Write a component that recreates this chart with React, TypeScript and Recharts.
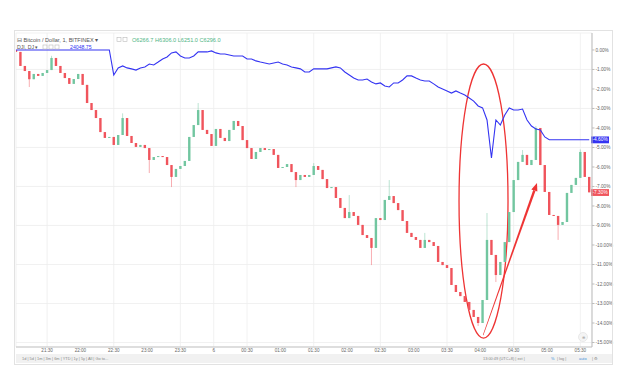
import { ComposedChart, Bar, Line, XAxis, YAxis, CartesianGrid, ReferenceArea, ReferenceLine } from 'recharts'

// BTC 1-min chart, sampled every 4 minutes, values in % vs. start
const closes = [
    -0.10, -0.82, -1.08, -1.50, -1.23, -1.33, -1.18, -1.03, -0.41, -0.82,
    -1.18, -1.44, -1.74, -1.49, -1.23, -1.79, -2.72, -3.08, -3.49, -4.21,
    -4.51, -4.46, -4.87, -4.36, -3.49, -4.41, -4.77, -4.97, -4.87, -5.03,
    -5.64, -5.49, -5.44, -5.49, -5.90, -6.51, -6.10, -5.95, -5.69, -4.46,
    -3.85, -3.08, -4.10, -4.31, -4.92, -4.05, -4.51, -4.67, -4.10, -3.64,
    -3.90, -4.62, -5.03, -5.59, -5.23, -5.03, -5.13, -5.08, -5.38, -6.05,
    -6.00, -5.85, -6.26, -6.67, -6.41, -6.51, -6.41, -5.95, -6.15, -6.62,
    -7.08, -7.03, -7.59, -8.10, -8.62, -8.31, -8.51, -8.97, -9.49, -9.64,
    -10.15, -8.62, -8.72, -7.69, -7.49, -7.85, -8.21, -8.77, -9.38, -9.59,
    -9.74, -10.15, -9.74, -9.85, -10.05, -10.87, -11.03, -11.18, -12.05, -12.41,
    -12.62, -12.92, -13.33, -13.69, -14.00, -12.82, -9.74, -10.51, -11.54, -10.87,
    -9.85, -8.31, -6.67, -5.74, -5.38, -5.90, -5.64, -4.00, -5.90, -7.28,
    -8.46, -8.51, -8.97, -8.82, -7.33, -6.92, -6.56, -5.23, -6.51, -7.30,
]

// wicks that stick out beyond the bodies
const spikes = [
    { i: 3, lo: -1.9 }, { i: 8, hi: -0.3 }, { i: 24, hi: -3.25 }, { i: 30, lo: -6.31 },
    { i: 35, lo: -7.03 }, { i: 41, hi: -2.72 }, { i: 63, lo: -7.03 }, { i: 67, hi: -5.8 },
    { i: 75, hi: -7.44 }, { i: 80, lo: -11.03 }, { i: 84, hi: -6.67 }, { i: 92, hi: -9.38 },
    { i: 104, lo: -14.15 }, { i: 106, hi: -8.36 }, { i: 108, lo: -11.9 }, { i: 114, hi: -5.13 },
    { i: 117, hi: -3.9 }, { i: 122, lo: -9.74 }, { i: 127, hi: -5.1 },
]

// DJI compare line (%)
const dji = [
    0, 0, 0, 0, 0, 0, 0, 0, 0, 0,
    0, 0, 0, 0, 0, 0, 0, 0, 0, 0,
    0, 0, -1.28, -0.92, -0.82, -0.92, -0.97, -1.03, -0.92, -0.87,
    -0.72, -0.77, -0.62, -0.46, -0.36, -0.15, -0.10, -0.31, -0.41, -0.41,
    -0.31, -0.10, -0.10, -0.10, -0.05, -0.15, -0.21, -0.21, -0.26, -0.31,
    -0.31, -0.31, -0.46, -0.46, -0.56, -0.62, -0.67, -0.72, -0.67, -0.62,
    -0.72, -0.77, -0.87, -0.92, -0.97, -1.13, -1.13, -0.97, -0.97, -0.97,
    -0.97, -0.92, -0.87, -0.92, -1.13, -1.28, -1.44, -1.54, -1.54, -1.49,
    -1.64, -1.74, -1.69, -1.85, -1.90, -1.69, -1.69, -1.54, -1.33, -1.33,
    -1.44, -1.54, -1.59, -1.59, -1.74, -1.90, -2.00, -2.10, -2.21, -2.10,
    -2.21, -2.31, -2.46, -2.62, -2.87, -2.97, -3.59, -5.54, -3.59, -3.85,
    -3.33, -2.97, -3.08, -3.08, -3.03, -3.59, -3.90, -4.05, -4.10, -4.46,
    -4.60, -4.60, -4.60, -4.60, -4.60, -4.60, -4.60, -4.60, -4.60, -4.60,
]

// minutes after 21:00
const START_MIN = 2
const STEP_MIN = 4
const timeTicks = [30, 60, 90, 120, 150, 180, 210, 240, 270, 300, 330, 360, 390, 420, 450, 480, 510]
const timeLabels = ['21:30', '22:00', '22:30', '23:00', '23:30', '6', '00:30', '01:00', '01:30',
    '02:00', '02:30', '03:00', '03:30', '04:00', '04:30', '05:00', '05:30']
const pctTicks = [0, -1, -2, -3, -4, -5, -6, -7, -8, -9, -10, -11, -12, -13, -14, -15]

// annotation: ellipse around the spike and arrow
const ellipseBox = { x1: 400.8, x2: 444.9, y1: -14.77, y2: -0.72 }
const arrowPts = [{ x: 422.5, y: -14.62 }, { x: 471, y: -6.82 }]

const RED = '#f0545c'
const GREEN = '#72c6a0'
const BLUE = '#3434f2'
const ANNOT = '#ee3434'
const FONT = '"Liberation Sans", Arial, sans-serif'

const data = closes.map((c, i) => {
    const open = i === 0 ? 0 : closes[i - 1]
    const sp: any = spikes.find(s => s.i === i) || {}
    const high = Math.max(open, c, sp.hi ?? -Infinity)
    const low = Math.min(open, c, sp.lo ?? Infinity)
    return { t: START_MIN + STEP_MIN * i, open, close: c, high, low, range: [low, high], dji: dji[i] }
})

const Candle = (props: any) => {
    const { x, y, width, height, payload } = props
    if (!payload || x == null) return null
    const { open, close, high, low } = payload
    const color = close >= open ? GREEN : RED
    const top = Math.min(y, y + height)
    const h = Math.abs(height)
    const span = high - low
    const py = (v: number) => (span > 0 ? top + ((high - v) / span) * h : top)
    const bTop = py(Math.max(open, close))
    const bBot = py(Math.min(open, close))
    const cx = x + width / 2
    return (
        <g>
            <line x1={cx} x2={cx} y1={top} y2={top + h} stroke={color} strokeOpacity={0.6} strokeWidth={0.8} />
            <rect x={x} y={bTop} width={width} height={Math.max(1, bBot - bTop)} fill={color} />
        </g>
    )
}

const EllipseShape = (p: any) => (
    <ellipse cx={p.x + p.width / 2} cy={p.y + p.height / 2} rx={p.width / 2} ry={p.height / 2}
        fill="none" stroke={ANNOT} strokeWidth={1.3} />
)

const ArrowShape = (p: any) => {
    const { x1, y1, x2, y2 } = p
    const len = Math.hypot(x2 - x1, y2 - y1) || 1
    const ux = (x2 - x1) / len, uy = (y2 - y1) / len
    const nx = -uy, ny = ux
    const bx = x2 - ux * 8, by = y2 - uy * 8
    const shaft = `${x1 + nx * 0.3},${y1 + ny * 0.3} ${bx + nx * 1.2},${by + ny * 1.2} ${bx - nx * 1.2},${by - ny * 1.2} ${x1 - nx * 0.3},${y1 - ny * 0.3}`
    const head = `${x2},${y2} ${bx + nx * 3.2},${by + ny * 3.2} ${bx - nx * 3.2},${by - ny * 3.2}`
    return (
        <g>
            <polygon points={shaft} fill={ANNOT} />
            <polygon points={head} fill={ANNOT} />
        </g>
    )
}

const PriceTag = (props: any) => {
    const { viewBox, fill, text } = props
    if (!viewBox) return null
    const x = viewBox.x + viewBox.width
    const y = viewBox.y
    return (
        <g>
            <rect x={x - 1} y={y - 3.2} width={18} height={6.8} fill={fill} />
            <text x={x + 0.5} y={y + 1.7} fontSize={4.8} fill="#fff" fontFamily={FONT}>{text}</text>
        </g>
    )
}

const lastClose = closes[closes.length - 1]
const lastDji = dji[dji.length - 1]
const tb = { fontSize: 3.9, fill: '#888', fontFamily: FONT }

export default function App() {
    return (
        <div style={{ position: 'absolute', left: 0, top: 0, width: 636, height: 387, background: '#fff' }}>
            <ComposedChart width={636} height={387} data={data}
                margin={{ top: 33, right: 24, left: 16, bottom: 32 }}>
                <CartesianGrid stroke="#ededed" strokeWidth={0.8} />
                <XAxis dataKey="t" type="number" domain={[2, 520.5]} allowDataOverflow ticks={timeTicks}
                    tickFormatter={(v) => timeLabels[timeTicks.indexOf(v)]}
                    height={8} tickSize={0} tickMargin={2} axisLine={{ stroke: '#c4c4c4' }}
                    tick={{ fontSize: 4.6, fill: '#666', fontFamily: FONT }} />
                <YAxis orientation="right" type="number" domain={[-15.23, 0.87]} allowDataOverflow
                    ticks={pctTicks} tickFormatter={(v) => `${v.toFixed(2)}%`} width={20}
                    tickSize={2.5} tickMargin={1} axisLine={{ stroke: '#bdbdbd' }} tickLine={{ stroke: '#bdbdbd' }}
                    tick={{ fontSize: 4.7, fill: '#666', fontFamily: FONT, textAnchor: 'start' }} />
                <Bar dataKey="range" barSize={2.4} shape={<Candle />} isAnimationActive={false} />
                <Line dataKey="dji" type="linear" stroke={BLUE} strokeWidth={1.1} dot={false}
                    activeDot={false} isAnimationActive={false} />
                <ReferenceArea {...ellipseBox} shape={<EllipseShape />} ifOverflow="visible" />
                <ReferenceLine segment={arrowPts} shape={<ArrowShape />} ifOverflow="visible" />
                <ReferenceLine y={lastDji} stroke="none"
                    label={<PriceTag fill={BLUE} text={`${lastDji.toFixed(2)}%`} />} />
                <ReferenceLine y={lastClose} stroke="none"
                    label={<PriceTag fill={RED} text={`${lastClose.toFixed(2)}%`} />} />
            </ComposedChart>
            <svg width={636} height={387} style={{ position: 'absolute', left: 0, top: 0, pointerEvents: 'none' }}>
                <rect x={14.5} y={30.5} width={598} height={334} fill="none" stroke="#e2e2e2" />
                <text x={17} y={41.5} fontSize={5.6} fill="#555" fontFamily={FONT}>⊟ Bitcoin / Dollar, 1, BITFINEX ▾</text>
                <rect x={117} y={37.5} width={4} height={4} fill="none" stroke="#bbb" strokeWidth={0.6} />
                <rect x={123} y={37.5} width={4} height={4} fill="none" stroke="#bbb" strokeWidth={0.6} />
                <text x={132} y={41.5} fontSize={5.6} fill="#4fb585" fontFamily={FONT}>O6266.7 H6306.0 L6251.0 C6296.0</text>
                <text x={17} y={48.5} fontSize={5.2} fill="#555" fontFamily={FONT}>DJI, DJ ▾</text>
                <rect x={43} y={45} width={4} height={4} fill="none" stroke="#bbb" strokeWidth={0.6} />
                <rect x={49} y={45} width={4} height={4} fill="none" stroke="#bbb" strokeWidth={0.6} />
                <rect x={55} y={45} width={4} height={4} fill="none" stroke="#bbb" strokeWidth={0.6} />
                <text x={70} y={48.5} fontSize={5.2} fill={BLUE} fontFamily={FONT}>24048.75</text>
                <circle cx={583} cy={337} r={4.5} fill="#f4f4f4" stroke="#dedede" strokeWidth={0.6} />
                <text x={583} y={338.5} fontSize={4} fill="#999" textAnchor="middle" fontFamily={FONT}>⊕</text>
                <rect x={16} y={354} width={596} height={9} fill="#f1f1f1" />
                <text x={22} y={360} {...tb}>1d  |  5d  |  1m  |  3m  |  6m  |  YTD  |  1y  |  5y  |  All  |  Go to...</text>
                <text x={483} y={360} {...tb}>13:00:49 (UTC+8)  |  ext  |</text>
                <text x={551} y={360} {...tb} fill="#3b8fd8">%</text>
                <text x={557} y={360} {...tb}>|  log  |</text>
                <text x={579} y={360} {...tb} fill="#3b8fd8">auto</text>
                <text x={592} y={360} {...tb}>|  ⚙</text>
            </svg>
        </div>
    )
}
